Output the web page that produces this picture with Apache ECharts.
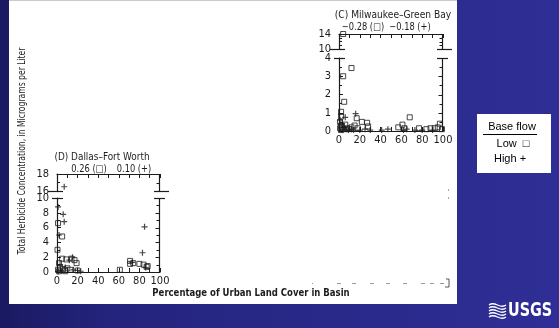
<!DOCTYPE html>
<html>
<head>
<meta charset="utf-8">
<script src="https://cdn.jsdelivr.net/npm/echarts@6/dist/echarts.min.js"></script>
<style>
  html, body { margin: 0; padding: 0; background: #24247f; }
  #chart { width: 559px; height: 328px; }
</style>
</head>
<body>
<div id="chart"></div>
<script>
// ---- data -------------------------------------------------------------
const xTickValues = [0, 20, 40, 60, 80, 100];

// (C) Milwaukee–Green Bay: [urban land cover %, herbicide µg/L]
const milwaukeeTitle = '(C) Milwaukee–Green Bay';
const milwaukeeRho = ['−0.28 (□)', '−0.18 (+)'];
const milwaukeeLower = [0, 4];
const milwaukeeUpper = [10, 14];
const milwaukeeLow = [
  [4, 14], [12, 3.45], [4, 3.0], [5, 1.6], [2, 1.05], [2, 0.8], [17, 0.7],
  [22, 0.5], [27, 0.45], [28, 0.25], [1, 0.5], [2, 0.3], [3, 0.2], [1, 0.15],
  [4, 0.1], [2, 0.05], [6, 0.35], [8, 0.15], [10, 0.1], [12, 0.2], [15, 0.3],
  [18, 0.15], [57, 0.2], [61, 0.35], [63, 0.15], [68, 0.75], [77, 0.15],
  [84, 0.1], [88, 0.15], [92, 0.15], [95, 0.2], [97, 0.4], [99, 0.1]
];
const milwaukeeHigh = [
  [6, 0.75], [16, 0.95], [3, 0.4], [5, 0.2], [7, 0.1], [9, 0.05], [12, 0.1],
  [14, 0.05], [20, 0.05], [25, 0.1], [30, 0.05], [41, 0.05], [47, 0.1],
  [62, 0.05], [65, 0.1], [73, 0.05], [80, 0.05], [90, 0.05], [1, 0.6], [3, 0.05]
];

// (D) Dallas–Fort Worth
const dallasTitle = '(D) Dallas–Fort Worth';
const dallasRho = ['0.26 (□)', '0.10 (+)'];
const dallasLower = [0, 10];
const dallasUpper = [16, 18];
const dallasLow = [
  [1, 6.6], [5, 4.8], [0.5, 3.0], [5, 1.8], [9, 1.7], [14, 1.8], [17, 1.6],
  [19, 1.2], [2, 1.2], [3, 0.6], [1, 0.3], [6, 0.4], [10, 0.5], [13, 0.3],
  [20, 0.2], [61, 0.3], [71, 1.5], [71, 1.1], [74, 1.2], [80, 1.1], [84, 1.0],
  [87, 0.7], [88, 0.8], [2, 0.1], [8, 0.1]
];
const dallasHigh = [
  [7, 16.5], [1, 8.8], [6, 7.8], [7, 6.8], [2, 5.0], [85, 6.1], [83, 2.6],
  [3, 1.0], [8, 0.6], [12, 1.6], [16, 0.3], [20, 0.2], [1, 0.05], [4, 0.2],
  [15, 2.0], [23, 0.1], [73, 1.3], [86, 0.6]
];

// ---- styling ----------------------------------------------------------
const INK = '#1c1c1c';
const NARROW = '"DejaVu Sans Condensed", "Liberation Sans", sans-serif';
const ARIAL = '"Liberation Sans", Arial, sans-serif';
const PLUS = 'path://M2,0H3V2H5V3H3V5H2V3H0V2H2Z';

// each panel: an upper (broken-off) grid and a lower grid
const panels = [
  { low: milwaukeeLow, high: milwaukeeHigh, lower: milwaukeeLower, upper: milwaukeeUpper,
    lowerInterval: 1, lowerMinor: 2, upperInterval: 4, upperMinor: 4,
    left: 339, width: 104, upperTop: 34, upperH: 15, lowerTop: 58, lowerH: 73 },
  { low: dallasLow, high: dallasHigh, lower: dallasLower, upper: dallasUpper,
    lowerInterval: 2, lowerMinor: 2, upperInterval: 2, upperMinor: 2,
    left: 57, width: 103, upperTop: 174, upperH: 17, lowerTop: 198, lowerH: 74 }
];

function axisLine() { return { show: true, onZero: false, lineStyle: { color: INK, width: 1.2 } }; }
function tick() { return { show: true, inside: true, length: 4, lineStyle: { color: INK, width: 1 } }; }
function minor(n) { return { show: true, splitNumber: n, length: 3, lineStyle: { color: INK, width: 1 } }; }
function label(extra) { return Object.assign({ color: INK, fontFamily: NARROW, fontSize: 11 }, extra); }

const grids = [], xAxes = [], yAxes = [], series = [], gridSpecs = [];

panels.forEach(function (p) {
  [['upper', p.upperTop, p.upperH, p.upper, p.upperInterval, p.upperMinor],
   ['lower', p.lowerTop, p.lowerH, p.lower, p.lowerInterval, p.lowerMinor]].forEach(function (g) {
    const isUpper = g[0] === 'upper';
    const gi = grids.length;
    gridSpecs.push({ range: g[3], interval: g[4], minor: g[5] });
    grids.push({ left: p.left, top: g[1], width: p.width, height: g[2] });
    xAxes.push({
      type: 'value', gridIndex: gi, min: 0, max: 100, interval: 10,
      position: isUpper ? 'top' : 'bottom',
      axisLine: axisLine(), axisTick: tick(), splitLine: { show: false },
      axisLabel: isUpper ? { show: false } : label({
        margin: 4,
        formatter: function (v) { return xTickValues.indexOf(v) >= 0 ? String(v) : ''; }
      })
    });
    yAxes.push({
      type: 'value', gridIndex: gi, position: 'left',
      min: g[3][0], max: g[3][1], interval: g[4],
      axisLine: axisLine(), axisTick: tick(), minorTick: minor(g[5]),
      splitLine: { show: false }, minorSplitLine: { show: false },
      axisLabel: label({ margin: 8 })
    });

    const inRange = function (d) { return isUpper ? d[1] >= g[3][0] : d[1] <= g[3][1]; };
    series.push({
      type: 'scatter', xAxisIndex: gi, yAxisIndex: gi, clip: false,
      symbol: 'rect', symbolSize: 5, z: 3,
      itemStyle: { color: 'rgba(255,255,255,0)', borderColor: INK, borderWidth: 1 },
      data: p.low.filter(inRange)
    });
    series.push({
      type: 'scatter', xAxisIndex: gi, yAxisIndex: gi, clip: false,
      symbol: PLUS, symbolSize: 6, z: 4,
      itemStyle: { color: INK },
      data: p.high.filter(inRange)
    });
  });
});

function txt(id, x, y, text, font, extra, sx) {
  return {
    type: 'text', id: id, x: x, y: y, scaleX: sx || 1,
    style: Object.assign({ text: text, fill: INK, font: font, align: 'center', verticalAlign: 'middle' }, extra || {})
  };
}

const staticGraphics = [
  { type: 'rect', id: 'panel', z: -5, shape: { x: 9, y: 0, width: 448, height: 304 },
    style: { fill: '#ffffff' } },
  { type: 'line', id: 'panelTop', z: -4, shape: { x1: 9, y1: 0.5, x2: 457, y2: 0.5 },
    style: { stroke: '#c9c9d6', lineWidth: 1 } },
  txt('cTitle', 393, 15, milwaukeeTitle, '11px ' + NARROW, null, 0.92),
  txt('cRho1', 363, 27, milwaukeeRho[0], '10px ' + NARROW, null, 0.92),
  txt('cRho2', 410, 27, milwaukeeRho[1], '10px ' + NARROW, null, 0.92),
  txt('dTitle', 102, 157, dallasTitle, '11px ' + NARROW, null, 0.9),
  txt('dRho1', 89, 169, dallasRho[0], '10px ' + NARROW, null, 0.92),
  txt('dRho2', 134, 169, dallasRho[1], '10px ' + NARROW, null, 0.92),
  txt('xTitle', 251, 293, 'Percentage of Urban Land Cover in Basin', 'bold 11px ' + NARROW, null, 0.86),
  Object.assign(txt('yTitle', 22, 151, 'Total Herbicide Concentration, in Micrograms per Liter',
    '10px ' + NARROW, null, 0.85), { rotation: Math.PI / 2 }),
  // clipped axis labels of a neighbouring panel peeking in at the bottom right
  { type: 'group', id: 'fragment', children: [312, 337, 352, 370, 386, 403, 421, 430, 440].map(function (x, i) {
      return { type: 'rect', shape: { x: x, y: 283, width: i === 0 ? 1 : 4, height: 1 },
        style: { fill: '#9a9a9a' } };
    }).concat([
      { type: 'polyline', shape: { points: [[446, 279], [449, 279], [449, 287], [445, 287]] },
        style: { stroke: '#555', lineWidth: 1, fill: null } },
      { type: 'rect', shape: { x: 448, y: 189, width: 1, height: 2 }, style: { fill: '#aaa' } },
      { type: 'rect', shape: { x: 448, y: 197, width: 1, height: 2 }, style: { fill: '#aaa' } }
    ]) },
  // legend
  { type: 'rect', id: 'legendBox', shape: { x: 477, y: 114, width: 74, height: 59 },
    style: { fill: '#ffffff' } },
  txt('legTitle', 512, 127, 'Base flow', '11px ' + ARIAL, { fill: '#000' }),
  { type: 'line', id: 'legLine', shape: { x1: 483, y1: 134.5, x2: 537, y2: 134.5 },
    style: { stroke: '#000', lineWidth: 1 } },
  txt('legLow', 513, 144, 'Low  □', '11px ' + ARIAL, { fill: '#000' }),
  txt('legHigh', 510, 159, 'High +', '11px ' + ARIAL, { fill: '#000' }),
  // USGS mark
  { type: 'group', id: 'logoWaves', children: [0, 1, 2, 3, 4].map(function (i) {
      const y = 304 + i * 3;
      return { type: 'bezierCurve',
        shape: { x1: 489, y1: y + 1, cpx1: 495, cpy1: y - 4, cpx2: 500, cpy2: y + 6, x2: 506, y2: y + 1 },
        style: { stroke: '#ffffff', lineWidth: 1.3, fill: null } };
    }) },
  { type: 'text', id: 'logoText', x: 508, y: 311, scaleX: 0.84,
    style: { text: 'USGS', fill: '#ffffff', font: 'bold 19px ' + NARROW, align: 'left', verticalAlign: 'middle' } }
];

const chart = echarts.init(document.getElementById('chart'), null, { renderer: 'canvas' });
chart.setOption({
  animation: false,
  backgroundColor: new echarts.graphic.LinearGradient(0, 0, 1, 0, [
    { offset: 0, color: '#1a1a62' }, { offset: 0.2, color: '#24247e' }, { offset: 1, color: '#2e2e96' }
  ]),
  grid: grids, xAxis: xAxes, yAxis: yAxes, series: series,
  graphic: staticGraphics
});

// right-hand frame of every grid (line + inward ticks) and the scale-break bars,
// all placed through each grid's own scale
const frameMarks = [];
gridSpecs.forEach(function (spec, gi) {
  const lo = chart.convertToPixel({ gridIndex: gi }, [100, spec.range[0]]);
  const hi = chart.convertToPixel({ gridIndex: gi }, [100, spec.range[1]]);
  const x = Math.round(lo[0]) - 0.5;
  frameMarks.push({ type: 'line', id: 'rAxis' + gi,
    shape: { x1: x, y1: hi[1], x2: x, y2: lo[1] },
    style: { stroke: INK, lineWidth: 1.2 } });
  const step = spec.interval / spec.minor;
  const count = Math.round((spec.range[1] - spec.range[0]) / step);
  for (let k = 0; k <= count; k++) {
    const v = spec.range[0] + k * step;
    const py = Math.round(chart.convertToPixel({ gridIndex: gi }, [100, v])[1]) + 0.5;
    const len = k % spec.minor === 0 ? 4 : 3;
    frameMarks.push({ type: 'line', id: 'rTick' + gi + '_' + k,
      shape: { x1: x, y1: py, x2: x - len, y2: py },
      style: { stroke: INK, lineWidth: 1 } });
  }
});
panels.forEach(function (p, pi) {
  const up = pi * 2, lo = pi * 2 + 1;
  [[0, -1], [100, 1]].forEach(function (side) {
    const a = chart.convertToPixel({ gridIndex: up }, [side[0], p.upper[0]]);
    const b = chart.convertToPixel({ gridIndex: lo }, [side[0], p.lower[1]]);
    const outA = side[1] * 9, inA = -side[1] * 6;
    const outB = side[1] * 5, inB = -side[1] * 6;
    frameMarks.push({ type: 'line', id: 'brkA' + pi + side[0],
      shape: { x1: a[0] + outA, y1: Math.round(a[1]) + 0.5, x2: a[0] + inA, y2: Math.round(a[1]) + 0.5 },
      style: { stroke: INK, lineWidth: 1.2 } });
    frameMarks.push({ type: 'line', id: 'brkB' + pi + side[0],
      shape: { x1: b[0] + outB, y1: Math.round(b[1]) + 0.5, x2: b[0] + inB, y2: Math.round(b[1]) + 0.5 },
      style: { stroke: INK, lineWidth: 1.2 } });
  });
});
chart.setOption({ graphic: staticGraphics.concat(frameMarks) });
</script>
</body>
</html>
